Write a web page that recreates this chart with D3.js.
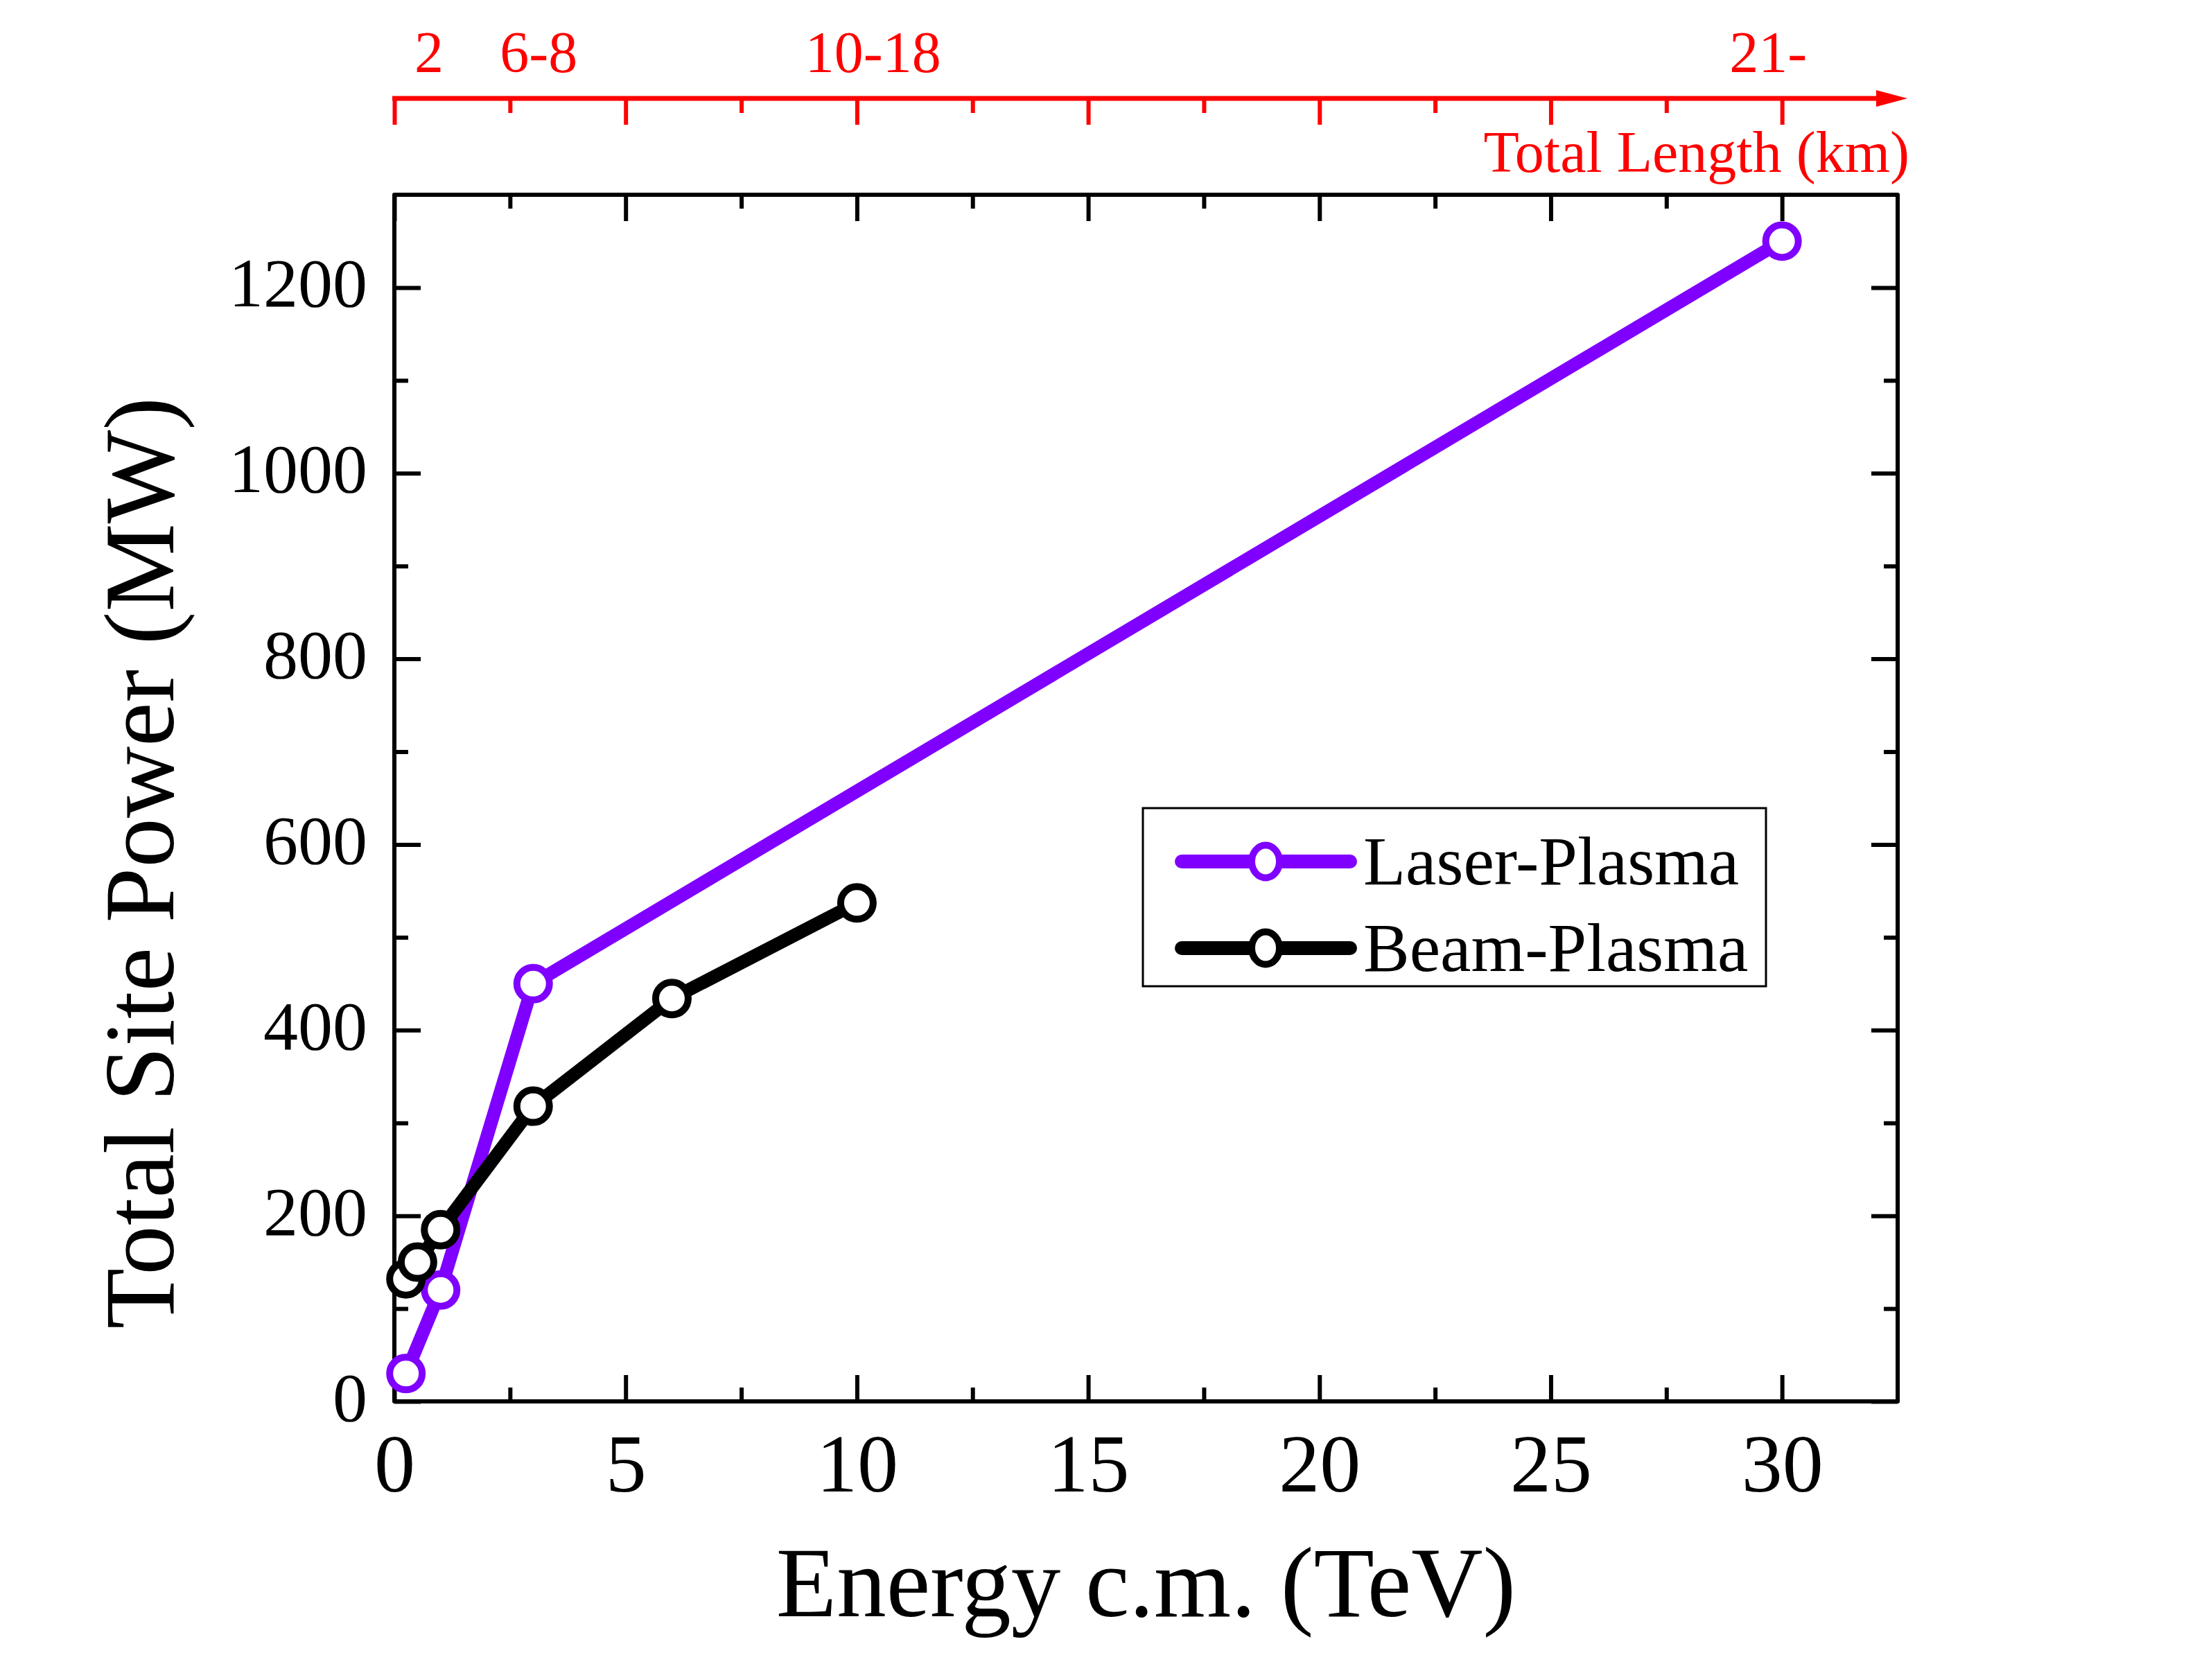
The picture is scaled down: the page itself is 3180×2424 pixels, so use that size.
<!DOCTYPE html>
<html>
<head>
<meta charset="utf-8">
<script src="https://cdn.jsdelivr.net/npm/d3@7"></script>
<style>
  html, body { margin: 0; padding: 0; background: #fff; }
  svg { display: block; }
  text { font-family: "Liberation Serif", "Times New Roman", serif; }
</style>
</head>
<body>
<svg id="chart" width="3180" height="2424"></svg>
<script>
// ---------- data ----------
const laserEnergy = [0.25, 1, 3, 30];
const laserPower  = [30, 120, 450, 1250];
const beamEnergy  = [0.25, 0.5, 1, 3, 6, 10];
const beamPower   = [132, 150, 185, 318, 434, 537];
const seriesNames = ["Laser-Plasma", "Beam-Plasma"];
const seriesColors = ["#8000ff", "#000000"];
const xMajorTicks = [0, 5, 10, 15, 20, 25, 30];
const xMinorTicks = [2.5, 7.5, 12.5, 17.5, 22.5, 27.5, 32.5];
const yMajorTicks = [0, 200, 400, 600, 800, 1000, 1200];
const yMinorTicks = [100, 300, 500, 700, 900, 1100, 1300];
const lengthLabels = ["2", "6-8", "10-18", "21-"];
const lengthLabelEnergy = [0.75, 3.12, 10.35, 29.7];
const xTitle = "Energy c.m. (TeV)";
const yTitle = "Total Site Power (MW)";
const topTitle = "Total Length (km)";

// ---------- layout ----------
const L = 569, R = 2738, T = 281, B = 2022;
const svg = d3.select("#chart");
const x = d3.scaleLinear().domain([0, 32.5]).range([L, R]);
const y = d3.scaleLinear().domain([0, 1300]).range([B, T]);

const FW = 6;
function styleAxis(g, color) {
  g.select(".domain").remove();
  g.selectAll(".tick line").attr("stroke", color).attr("stroke-width", FW);
  g.selectAll(".tick text").attr("fill", color);
}

// bottom axis
const gB = svg.append("g").attr("transform", `translate(0,${B})`)
  .call(d3.axisBottom(x).tickValues(xMajorTicks).tickSize(-38).tickSizeOuter(0).tickPadding(46).tickFormat(d3.format("d")));
styleAxis(gB, "#000");
gB.selectAll(".tick text").attr("font-size", 118).attr("font-family", "Liberation Serif");
const gBm = svg.append("g").attr("transform", `translate(0,${B})`)
  .call(d3.axisBottom(x).tickValues(xMinorTicks.filter(v => v < 32.5)).tickSize(-20).tickSizeOuter(0).tickFormat(""));
styleAxis(gBm, "#000");

// top frame axis
const gT = svg.append("g").attr("transform", `translate(0,${T})`)
  .call(d3.axisTop(x).tickValues(xMajorTicks).tickSize(-38).tickSizeOuter(0).tickFormat(""));
styleAxis(gT, "#000");
const gTm = svg.append("g").attr("transform", `translate(0,${T})`)
  .call(d3.axisTop(x).tickValues(xMinorTicks.filter(v => v < 32.5)).tickSize(-20).tickSizeOuter(0).tickFormat(""));
styleAxis(gTm, "#000");

// left axis
const gL = svg.append("g").attr("transform", `translate(${L},0)`)
  .call(d3.axisLeft(y).tickValues(yMajorTicks).tickSize(-38).tickSizeOuter(0).tickPadding(39).tickFormat(d3.format("d")));
styleAxis(gL, "#000");
gL.selectAll(".tick text").attr("font-size", 100).attr("dy", "0.27em").attr("font-family", "Liberation Serif");
const gLm = svg.append("g").attr("transform", `translate(${L},0)`)
  .call(d3.axisLeft(y).tickValues(yMinorTicks.filter(v => v < 1300)).tickSize(-20).tickSizeOuter(0).tickFormat(""));
styleAxis(gLm, "#000");

// right frame axis
const gR = svg.append("g").attr("transform", `translate(${R},0)`)
  .call(d3.axisRight(y).tickValues(yMajorTicks).tickSize(-38).tickSizeOuter(0).tickFormat(""));
styleAxis(gR, "#000");
const gRm = svg.append("g").attr("transform", `translate(${R},0)`)
  .call(d3.axisRight(y).tickValues(yMinorTicks.filter(v => v < 1300)).tickSize(-20).tickSizeOuter(0).tickFormat(""));
styleAxis(gRm, "#000");

// frame
svg.append("rect").attr("x", L).attr("y", T).attr("width", R - L).attr("height", B - T)
  .attr("fill", "none").attr("stroke", "#000").attr("stroke-width", FW).attr("stroke-linejoin", "round");

// ---------- red top length axis ----------
const RY = 142;
const red = "#ff0000";
const gRed = svg.append("g").attr("transform", `translate(0,${RY})`)
  .call(d3.axisBottom(x).tickValues(xMajorTicks).tickSize(38).tickSizeOuter(0).tickFormat(""));
styleAxis(gRed, red);
const gRedm = svg.append("g").attr("transform", `translate(0,${RY})`)
  .call(d3.axisBottom(x).tickValues(xMinorTicks.filter(v => v < 32.5)).tickSize(21).tickSizeOuter(0).tickFormat(""));
styleAxis(gRedm, red);
const arrowStart = x.range()[1] - 31, arrowTip = x.range()[1] + 14;
svg.append("line").attr("x1", x(0) - 3).attr("x2", arrowStart + 2).attr("y1", RY).attr("y2", RY)
  .attr("stroke", red).attr("stroke-width", 7);
svg.append("path")
  .attr("d", `M${arrowStart},${RY - 12}L${arrowTip},${RY}L${arrowStart},${RY + 12}Z`)
  .attr("fill", red);
svg.append("g").selectAll("text").data(lengthLabels).join("text")
  .attr("x", (d, i) => x(lengthLabelEnergy[i]))
  .attr("y", 104)
  .attr("text-anchor", "middle")
  .attr("font-size", 84)
  .attr("fill", red)
  .text(d => d);
svg.append("text").attr("x", 2755).attr("y", 248).attr("text-anchor", "end")
  .attr("font-size", 84).attr("fill", red).text(topTitle);

// ---------- axis titles ----------
svg.append("text").attr("x", (L + R) / 2).attr("y", 2332).attr("text-anchor", "middle")
  .attr("font-size", 143).attr("fill", "#000").text(xTitle);
svg.append("text").attr("transform", "translate(250,1245) rotate(-90)").attr("text-anchor", "middle")
  .attr("font-size", 143).attr("fill", "#000").text(yTitle);

// ---------- series ----------
const LW = 19, MR = 23.5, MW = 10;
const series = [
  { name: seriesNames[0], color: seriesColors[0], pts: laserEnergy.map((e, i) => [e, laserPower[i]]) },
  { name: seriesNames[1], color: seriesColors[1], pts: beamEnergy.map((e, i) => [e, beamPower[i]]) }
];
const line = d3.line().x(d => x(d[0])).y(d => y(d[1]));
series.forEach(s => {
  const g = svg.append("g");
  g.append("path").attr("d", line(s.pts)).attr("fill", "none")
    .attr("stroke", s.color).attr("stroke-width", LW).attr("stroke-linejoin", "round");
  g.selectAll("circle").data(s.pts).join("circle")
    .attr("cx", d => x(d[0])).attr("cy", d => y(d[1])).attr("r", MR)
    .attr("fill", "#fff").attr("stroke", s.color).attr("stroke-width", MW);
});

// ---------- legend ----------
const lg = svg.append("g");
lg.append("rect").attr("x", 1649).attr("y", 1166).attr("width", 899).attr("height", 257)
  .attr("fill", "#fff").attr("stroke", "#000").attr("stroke-width", 3);
series.forEach((s, i) => {
  const cy = 1243 + i * 125;
  lg.append("line").attr("x1", 1705).attr("x2", 1948).attr("y1", cy).attr("y2", cy)
    .attr("stroke", s.color).attr("stroke-width", 20).attr("stroke-linecap", "round");
  lg.append("ellipse").attr("cx", 1826).attr("cy", cy).attr("rx", 20).attr("ry", 23.5)
    .attr("fill", "#fff").attr("stroke", s.color).attr("stroke-width", MW);
  lg.append("text").attr("x", 1967).attr("y", cy + 33).attr("font-size", 100)
    .attr("fill", "#000").text(s.name);
});
</script>
</body>
</html>
